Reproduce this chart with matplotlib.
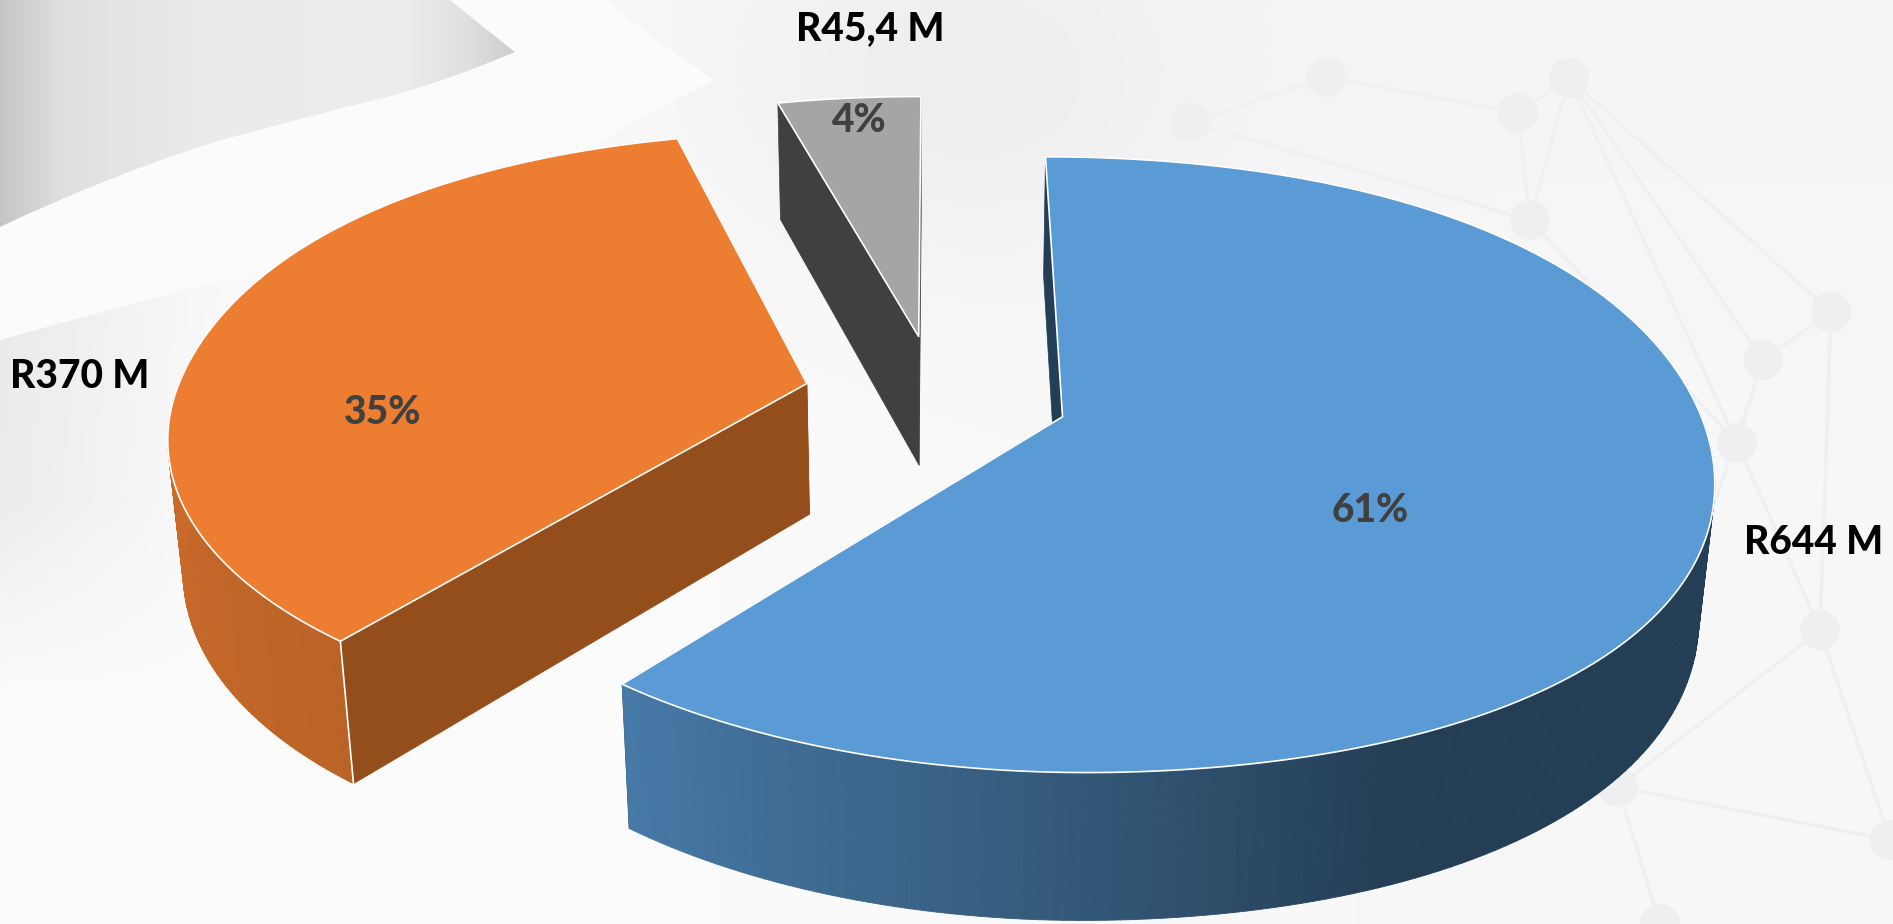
import numpy as np
import matplotlib
matplotlib.use("Agg")
import matplotlib.pyplot as plt
from matplotlib.collections import PolyCollection
from matplotlib.patches import Polygon, Circle, PathPatch
from matplotlib.path import Path

plt.rcParams['font.family'] = ['Lato', 'DejaVu Sans']

# data
values = [644, 370, 45.4]
value_labels = ["R644 M", "R370 M", "R45,4 M"]
top_colors = ["#5B9BD5", "#ED7D31", "#A5A5A5"]
cut_colors = ["#233E55", "#944E1C", "#404040"]

# network picture behind the chart
nodes = [(1327, 77), (1518, 113), (1569, 78), (1190, 122), (1530, 220), (1831, 312),
         (1763, 360), (1737, 443), (1820, 630), (1618, 787), (1890, 840), (1660, 924)]
links = [(0, 1), (1, 2), (0, 3), (1, 4), (2, 4), (2, 6), (2, 7), (4, 7), (5, 6), (6, 7),
         (5, 8), (7, 8), (8, 9), (9, 11), (6, 9), (3, 4), (8, 10), (9, 10), (2, 5)]

# pie geometry (pixels of the 1893x924 picture)
cx, cy = 936, 396
rx, ry = 632, 294
persp = 0.154
persp_z = 0.02
depth = 134
explode = 0.21
bulge = 0.02

fig = plt.figure(figsize=(18.93, 9.24), dpi=100)
ax = fig.add_axes([0, 0, 1, 1])
ax.set_xlim(0, 1893)
ax.set_ylim(924, 0)
ax.axis("off")


def project(x, y, z=0.0):
    f = 1 / (1 + persp * y + persp_z * z)
    return cx + rx * x * f, cy + (-ry * y + depth * z) * f


def shade(theta):
    return np.interp(theta, [156, 178, 219.6, 270], [0.40, 0.55, 0.79, 0.86])


# background
yy, xx = np.mgrid[0:924, 0:1893]
t = np.clip((xx - 500) / 900, 0, 1) * 0.6 + np.clip((500 - yy) / 500, 0, 1) * 0.4
base = 252 - 7 * t
left = np.clip((250 - xx) / 250, 0, 1) * np.clip((700 - yy) / 200, 0, 1)
base = base - 16 * left
base = base - 9 * np.exp(-((xx - 950) / 260.0) ** 2 - ((yy - 90) / 190.0) ** 2)
rgb = np.dstack([base, base, base + 2 * t]).clip(0, 255) / 255
ax.imshow(rgb, extent=(0, 1893, 924, 0), aspect="auto", zorder=0)

grey = np.interp(np.arange(520), [0, 60, 200, 400, 470, 515], [196, 222, 234, 236, 222, 204])
im = ax.imshow(np.tile(grey, (240, 1)), extent=(0, 520, 240, 0), aspect="auto", cmap="gray",
               vmin=0, vmax=255, zorder=1)
shape_path = Path([(0, 0), (450, 0), (515, 52), (450, 80), (388, 97), (300, 118), (212, 143),
                   (110, 175), (0, 227), (0, 0)],
                  [Path.MOVETO, Path.LINETO, Path.LINETO, Path.CURVE3, Path.CURVE3, Path.CURVE3,
                   Path.CURVE3, Path.CURVE3, Path.CURVE3, Path.CLOSEPOLY])
shape = PathPatch(shape_path, fc="none", ec="none")
ax.add_patch(shape)
im.set_clip_path(shape)
ax.set_xlim(0, 1893)
ax.set_ylim(924, 0)
band = Path([(450, 0), (606, 0), (660, 45), (715, 80), (600, 135), (500, 210), (250, 270), (0, 340),
             (0, 227), (110, 175), (212, 143), (300, 118), (388, 97), (450, 80), (515, 52), (450, 0)],
            [Path.MOVETO, Path.LINETO, Path.CURVE3, Path.CURVE3, Path.CURVE3, Path.CURVE3, Path.CURVE3,
             Path.CURVE3, Path.LINETO, Path.CURVE3, Path.CURVE3, Path.CURVE3, Path.CURVE3, Path.CURVE3,
             Path.CURVE3, Path.CLOSEPOLY])
ax.add_patch(PathPatch(band, fc="#FBFBFB", ec="none", zorder=1))

for i, j in links:
    ax.plot([nodes[i][0], nodes[j][0]], [nodes[i][1], nodes[j][1]], color="#F0F0F2", lw=2.5, zorder=2)
for n in nodes:
    ax.add_patch(Circle(n, 20, fc="#EFEFF1", ec="none", zorder=2))

# slices, drawn back to front so the blue one ends on top
total = sum(values)
ends = np.cumsum(values) / total * 360
starts = np.concatenate([[0], ends[:-1]])

for k in [2, 1, 0]:
    start, end = starts[k], ends[k]
    mid = np.radians((start + end) / 2)
    ex, ey = explode * np.sin(mid), explode * np.cos(mid)
    th = np.linspace(start, end, 200)
    rad = np.radians(th)
    # arcs in the reference swell a bit, except towards the lower left
    swell = np.where((th > 180) & (th < 270), 0.004, bulge)
    r = 1 + swell * np.sin(2 * rad) ** 2
    x = ex + r * np.sin(rad)
    y = ey + r * np.cos(rad)
    z = 10 + k * 2

    # cut walls
    for edge in [0, -1]:
        p = [project(ex, ey), project(x[edge], y[edge]), project(x[edge], y[edge], 1), project(ex, ey, 1)]
        ax.add_patch(Polygon(p, fc=cut_colors[k], ec=cut_colors[k], lw=0.5, zorder=z))

    # outer wall with its gradient, only the part facing the viewer
    tx, ty = project(x, y)
    bx, by = project(x, y, 1)
    base_rgb = np.array(matplotlib.colors.to_rgb(top_colors[k]))
    quads = []
    cols = []
    for i in range(len(th) - 1):
        if np.cos(rad[i]) < 0.1:
            quads.append([(tx[i], ty[i]), (tx[i + 1], ty[i + 1]), (bx[i + 1], by[i + 1]), (bx[i], by[i])])
            cols.append(tuple(base_rgb * shade((th[i] + th[i + 1]) / 2)))
    if quads:
        ax.add_collection(PolyCollection(quads, facecolors=cols, edgecolors=cols, linewidths=0.6, zorder=z))

    # white seam where outer wall meets the cut wall
    if k == 1:
        ax.plot([tx[0], bx[0]], [ty[0], by[0]], color="white", lw=1.2, zorder=z + 0.5)

    # top face
    ox, oy = project(ex, ey)
    top = [(ox, oy)] + list(zip(tx, ty))
    ax.add_patch(Polygon(top, fc=top_colors[k], ec="white", lw=1.2, joinstyle="miter", zorder=z + 1))

# percent labels
pct_pos = [(1370, 511), (383, 413), (858, 120)]
for v, pos in zip(values, pct_pos):
    ax.text(pos[0], pos[1], f"{v / total * 100:.0f}%", color="#404040", fontsize=28, fontweight=900,
            ha="center", va="center", zorder=30)

# value labels
val_pos = [(1814, 543), (80, 376), (870, 29)]
for lab, pos in zip(value_labels, val_pos):
    ax.text(pos[0], pos[1], lab, color="black", fontsize=28, fontweight=900,
            ha="center", va="center", zorder=30)

fig.savefig("out.png", dpi=100)
